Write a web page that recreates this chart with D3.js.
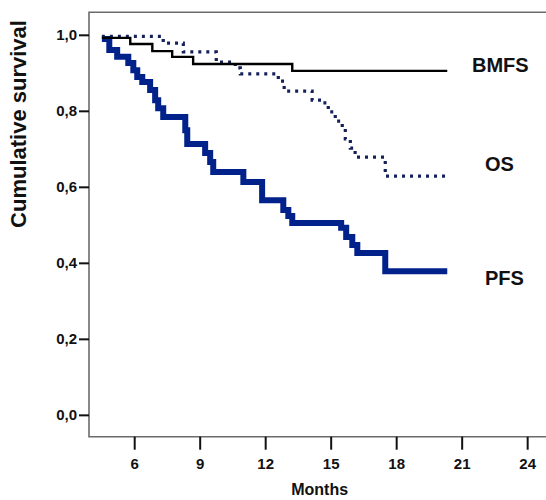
<!DOCTYPE html>
<html>
<head>
<meta charset="utf-8">
<script src="https://cdn.jsdelivr.net/npm/d3@7"></script>
<style>
  body { margin: 0; background: #fff; }
</style>
</head>
<body>
<div id="chart"></div>
<script>
// Kaplan-Meier step data (month of each step, survival after it)
const bmfsMonths   = [4.52, 5.82, 6.83, 7.74, 8.70, 13.24, 20.34];
const bmfsSurvival = [0.992, 0.976, 0.957, 0.942, 0.923, 0.905, 0.905];

const osMonths   = [4.52, 7.33, 8.25, 9.76, 10.63, 10.86, 12.60, 12.87, 14.15, 14.66, 14.89, 15.21, 15.53, 15.67, 15.90, 16.12, 17.50, 20.34];
const osSurvival = [0.996, 0.978, 0.955, 0.928, 0.913, 0.897, 0.878, 0.852, 0.828, 0.821, 0.797, 0.773, 0.755, 0.726, 0.702, 0.678, 0.628, 0.628];

const pfsMonths   = [4.52, 4.86, 5.22, 5.73, 5.96, 6.14, 6.37, 6.73, 6.96, 7.10, 7.33, 8.34, 8.43, 9.25, 9.48, 9.62, 11.0, 11.86, 12.83, 13.06, 13.24, 15.48, 15.71, 15.99, 16.22, 17.50, 20.34];
const pfsSurvival = [0.989, 0.960, 0.942, 0.926, 0.907, 0.889, 0.876, 0.855, 0.828, 0.807, 0.784, 0.749, 0.713, 0.689, 0.665, 0.639, 0.613, 0.565, 0.539, 0.523, 0.505, 0.492, 0.468, 0.447, 0.426, 0.378, 0.378];

const seriesNames = ["BMFS", "OS", "PFS"];
const xTicks = [6, 9, 12, 15, 18, 21, 24];
const yTicks = [0, 0.2, 0.4, 0.6, 0.8, 1.0];

const width = 546;
const height = 500;
const plotLeft = 89, plotRight = 549, plotTop = 12.2, plotBottom = 436.7;
const NUM_FONT = "'Liberation Sans Narrow','Arial Narrow','Liberation Sans',Arial,sans-serif";
const FONT = "'Liberation Sans',Arial,sans-serif";

const svg = d3.select("#chart")
  .append("svg")
  .attr("width", width)
  .attr("height", height);

// scales
const x = d3.scaleLinear().domain([3.93, 25.0]).range([plotLeft, plotRight]);
const y = d3.scaleLinear().domain([-0.0575, 1.0595]).range([plotBottom, plotTop]);

// frame (right edge falls outside the picture)
svg.append("path")
  .attr("d", `M${plotRight},${plotTop}H${plotLeft}V${plotBottom}H${plotRight}`)
  .attr("fill", "none")
  .attr("stroke", "#6b6b6b")
  .attr("stroke-width", 1.6);

// y axis
const yAxis = svg.append("g")
  .attr("transform", `translate(${plotLeft},0)`)
  .call(d3.axisLeft(y)
    .tickValues(yTicks)
    .tickSize(10)
    .tickPadding(2)
    .tickFormat(d => d3.format(".1f")(d).replace(".", ",")));
yAxis.select(".domain").remove();
yAxis.selectAll(".tick line").attr("stroke", "#111").attr("stroke-width", 2);
yAxis.selectAll(".tick text")
  .attr("font-family", NUM_FONT)
  .attr("font-weight", "bold")
  .attr("font-size", "15px")
  .attr("fill", "#111");

// x axis
const xAxis = svg.append("g")
  .attr("transform", `translate(0,${plotBottom})`)
  .call(d3.axisBottom(x)
    .tickValues(xTicks)
    .tickSize(13)
    .tickPadding(9));
xAxis.select(".domain").remove();
xAxis.selectAll(".tick line").attr("stroke", "#111").attr("stroke-width", 2);
xAxis.selectAll(".tick text")
  .attr("font-family", NUM_FONT)
  .attr("font-weight", "bold")
  .attr("font-size", "15px")
  .attr("fill", "#111");

// axis titles
svg.append("text")
  .attr("x", (x(6) + x(24)) / 2 - 11)
  .attr("y", 495)
  .attr("text-anchor", "middle")
  .attr("font-family", FONT)
  .attr("font-weight", "bold")
  .attr("font-size", "16px")
  .attr("fill", "#111")
  .text("Months");

svg.append("text")
  .attr("transform", "translate(26,124) rotate(-90)")
  .attr("text-anchor", "middle")
  .attr("font-family", FONT)
  .attr("font-weight", "bold")
  .attr("font-size", "22px")
  .attr("fill", "#111")
  .text("Cumulative survival");

// curves
const line = d3.line()
  .x(d => x(d[0]))
  .y(d => y(d[1]))
  .curve(d3.curveStepAfter);

const curves = [
  { months: pfsMonths, surv: pfsSurvival, color: "#01228a", w: 6, dash: null },
  { months: osMonths, surv: osSurvival, color: "#14205a", w: 3.2, dash: "3,5" },
  { months: bmfsMonths, surv: bmfsSurvival, color: "#000", w: 2.4, dash: null }
];

curves.forEach(c => {
  svg.append("path")
    .datum(d3.zip(c.months, c.surv))
    .attr("d", line)
    .attr("fill", "none")
    .attr("stroke", c.color)
    .attr("stroke-width", c.w)
    .attr("stroke-dasharray", c.dash)
    .attr("stroke-linejoin", "miter");
});

// series labels on the right
const labelPos = [
  { x: 472, y: 72 },
  { x: 485, y: 171 },
  { x: 485, y: 285 }
];
seriesNames.forEach((name, i) => {
  svg.append("text")
    .attr("x", labelPos[i].x)
    .attr("y", labelPos[i].y)
    .attr("font-family", FONT)
    .attr("font-weight", "bold")
    .attr("font-size", "20px")
    .attr("fill", "#111")
    .text(name);
});
</script>
</body>
</html>
